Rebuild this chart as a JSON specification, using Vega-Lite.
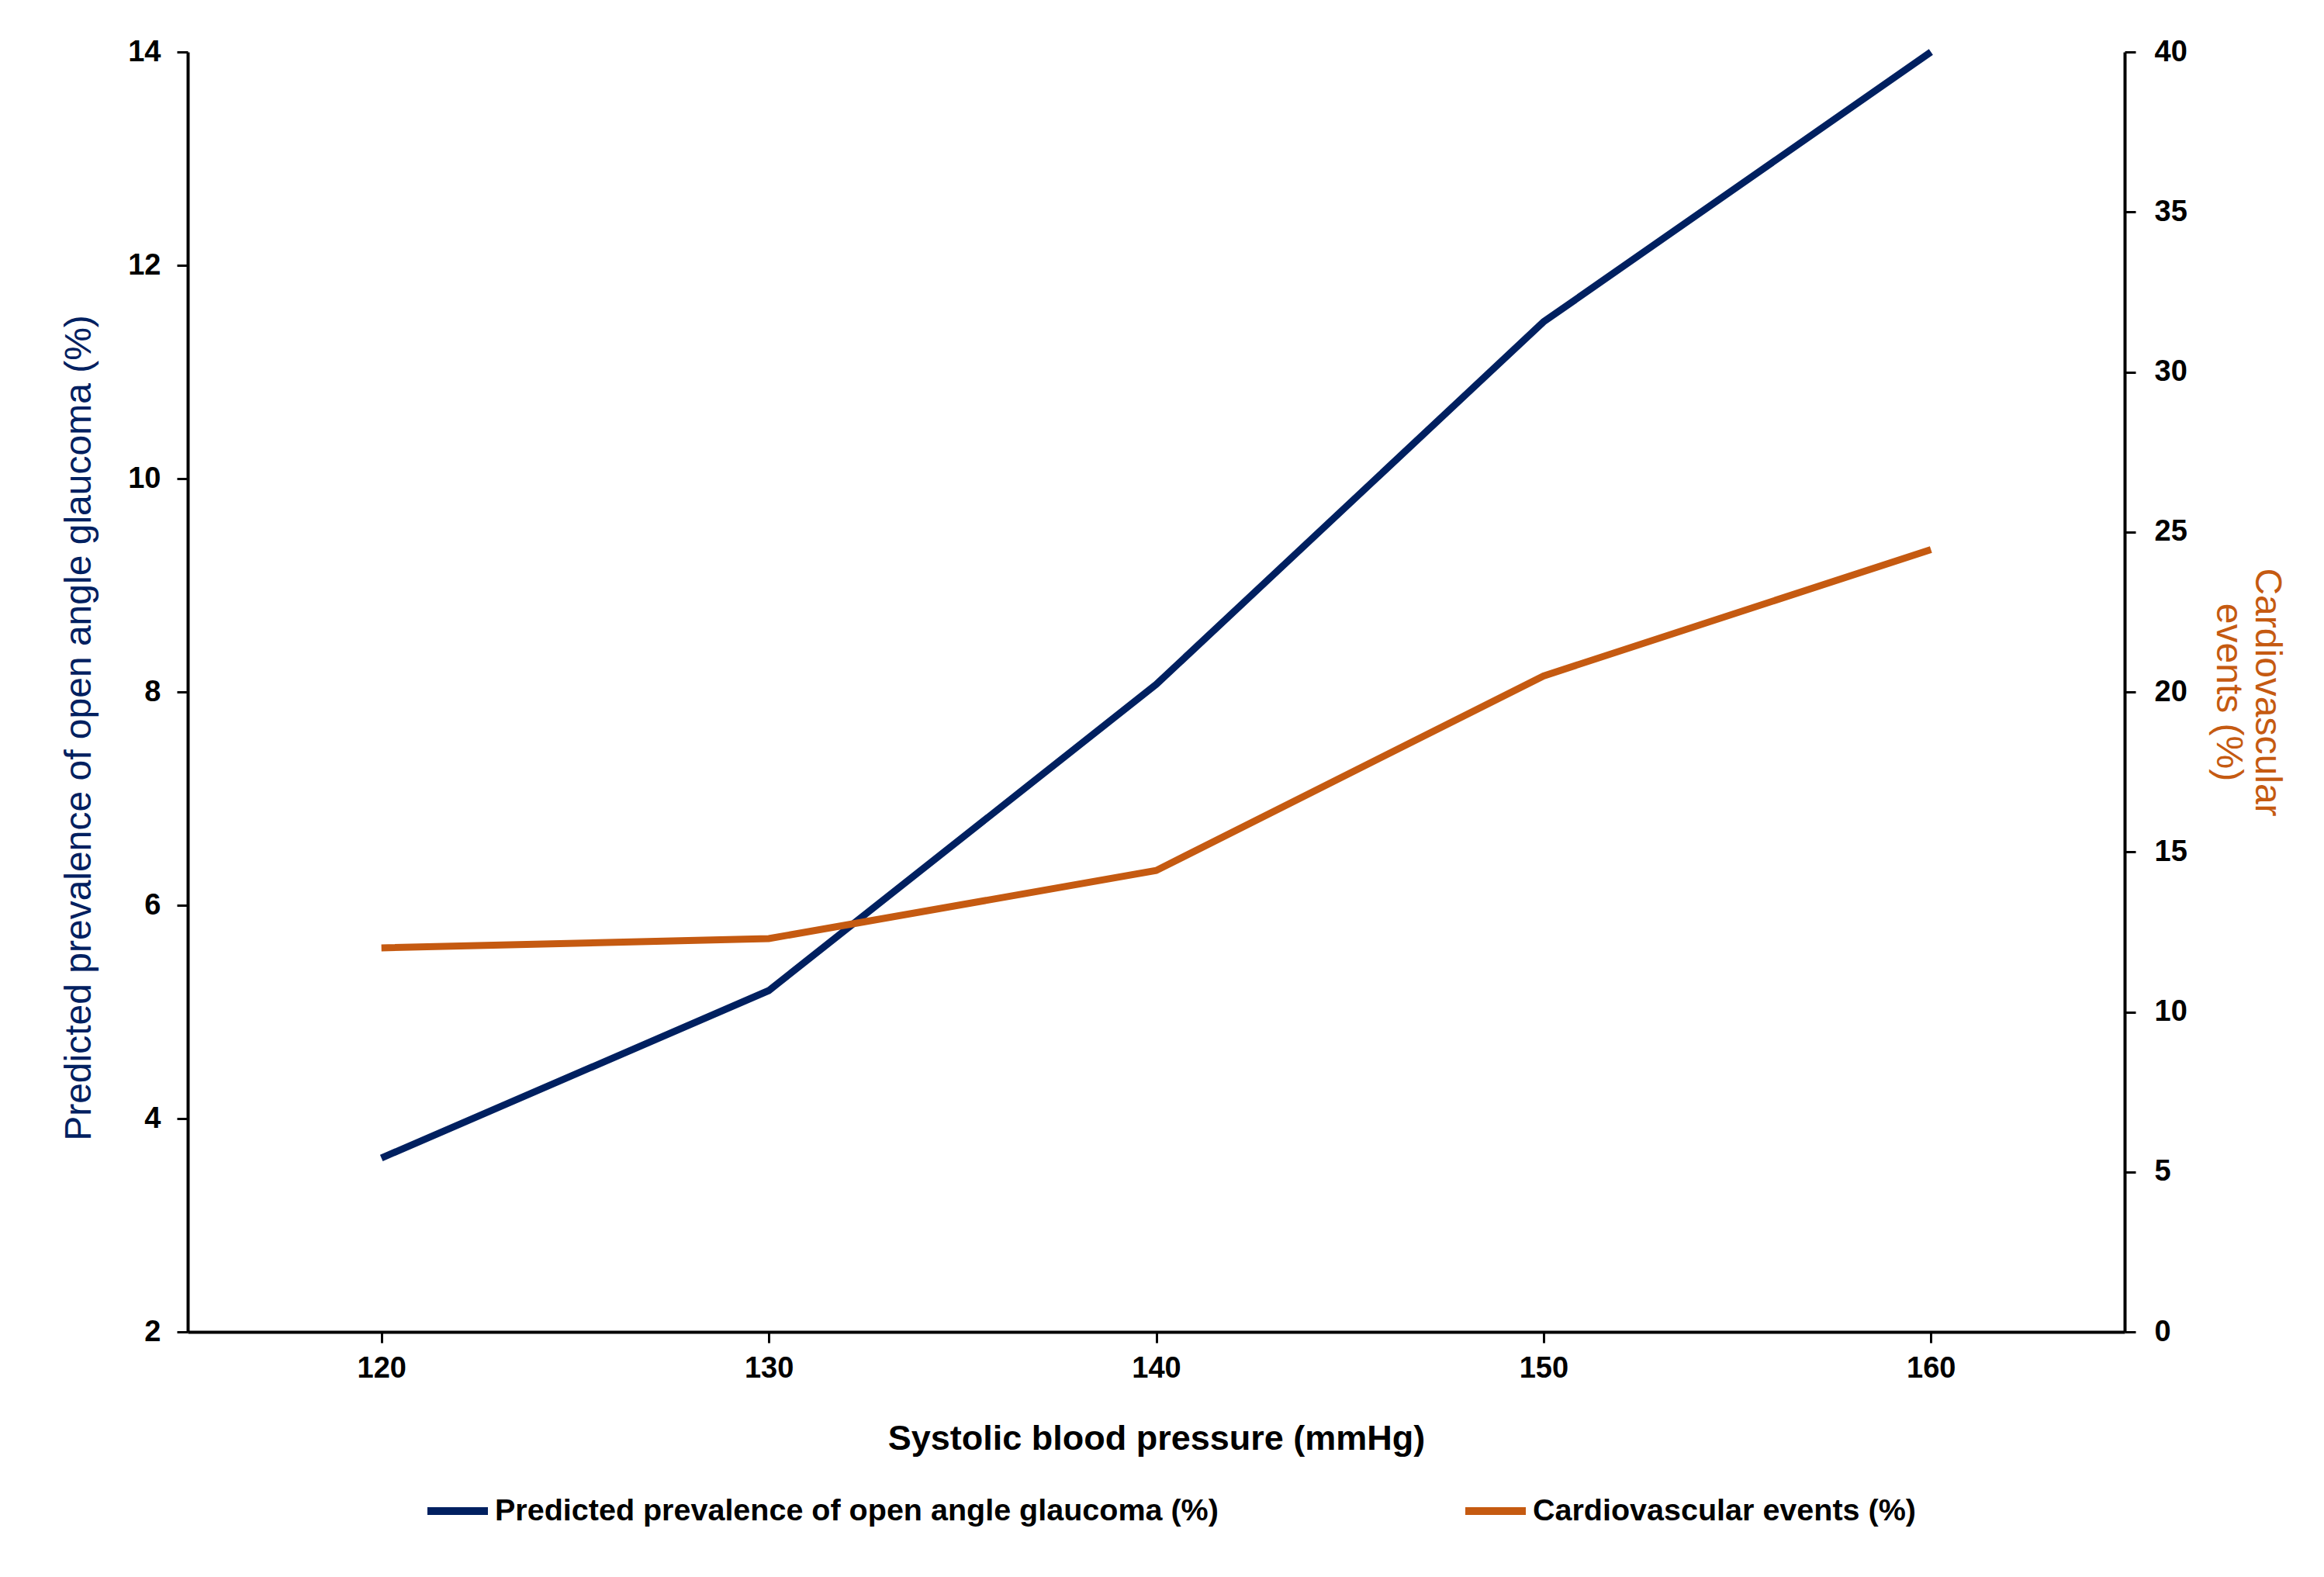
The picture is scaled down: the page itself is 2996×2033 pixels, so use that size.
{
  "$schema": "https://vega.github.io/schema/vega-lite/v6.json",
  "width": 2497,
  "height": 1650,
  "autosize": "none",
  "padding": {"left": 242, "top": 67, "right": 257, "bottom": 316},
  "background": "white",
  "config": {
    "font": "Liberation Sans",
    "view": {"stroke": null},
    "axis": {
      "grid": false,
      "labelFont": "Liberation Sans",
      "labelFontWeight": "bold",
      "labelFontSize": 38,
      "labelColor": "black",
      "domainColor": "black",
      "domainWidth": 4,
      "tickColor": "black",
      "tickWidth": 3,
      "tickSize": 14,
      "titleFont": "Liberation Sans"
    }
  },
  "data": {
    "values": [
      {"sbp": 120, "series": "Predicted prevalence of open angle glaucoma (%)", "value": 3.63},
      {"sbp": 130, "series": "Predicted prevalence of open angle glaucoma (%)", "value": 5.2},
      {"sbp": 140, "series": "Predicted prevalence of open angle glaucoma (%)", "value": 8.07},
      {"sbp": 150, "series": "Predicted prevalence of open angle glaucoma (%)", "value": 11.47},
      {"sbp": 160, "series": "Predicted prevalence of open angle glaucoma (%)", "value": 14.0},
      {"sbp": 120, "series": "Cardiovascular events (%)", "value": 12.0},
      {"sbp": 130, "series": "Cardiovascular events (%)", "value": 12.29},
      {"sbp": 140, "series": "Cardiovascular events (%)", "value": 14.42},
      {"sbp": 150, "series": "Cardiovascular events (%)", "value": 20.5},
      {"sbp": 160, "series": "Cardiovascular events (%)", "value": 24.45}
    ]
  },
  "encoding": {
    "x": {
      "field": "sbp",
      "type": "quantitative",
      "scale": {"domain": [115, 165], "nice": false, "zero": false},
      "axis": {
        "title": "Systolic blood pressure (mmHg)",
        "titleFontSize": 45,
        "titleFontWeight": "bold",
        "titleColor": "black",
        "titlePadding": 49,
        "values": [120, 130, 140, 150, 160],
        "labelPadding": 14
      }
    },
    "color": {
      "field": "series",
      "type": "nominal",
      "scale": {
        "domain": ["Predicted prevalence of open angle glaucoma (%)", "Cardiovascular events (%)"],
        "range": ["#002060", "#C55A11"]
      },
      "legend": {
        "title": null,
        "orient": "none",
        "legendX": 304,
        "legendY": 1837,
        "direction": "horizontal",
        "symbolType": "stroke",
        "symbolStrokeWidth": 10,
        "symbolSize": 6084,
        "labelFontSize": 39.5,
        "labelFontWeight": "bold",
        "labelColor": "black",
        "labelLimit": 0,
        "labelOffset": 4,
        "columnPadding": 298,
        "padding": 0
      }
    }
  },
  "layer": [
    {
      "transform": [{"filter": "datum.series == 'Predicted prevalence of open angle glaucoma (%)'"}],
      "mark": {"type": "line", "strokeWidth": 9},
      "encoding": {
        "y": {
          "field": "value",
          "type": "quantitative",
          "scale": {"domain": [2, 14], "nice": false, "zero": false},
          "axis": {
            "title": "Predicted prevalence of open angle glaucoma (%)",
            "titleColor": "#002060",
            "titleFontSize": 48,
            "titleFontWeight": "normal",
            "titlePadding": 38,
            "titleY": 871,
            "values": [2, 4, 6, 8, 10, 12, 14],
            "labelPadding": 21
          }
        }
      }
    },
    {
      "transform": [{"filter": "datum.series == 'Cardiovascular events (%)'"}],
      "mark": {"type": "line", "strokeWidth": 9},
      "encoding": {
        "y": {
          "field": "value",
          "type": "quantitative",
          "scale": {"domain": [0, 40], "nice": false},
          "axis": {
            "orient": "right",
            "title": ["Cardiovascular", "events (%)"],
            "titleColor": "#C55A11",
            "titleFontSize": 48,
            "titleFontWeight": "normal",
            "titlePadding": 28,
            "values": [0, 5, 10, 15, 20, 25, 30, 35, 40],
            "labelPadding": 24
          }
        }
      }
    }
  ],
  "resolve": {"scale": {"y": "independent"}}
}
